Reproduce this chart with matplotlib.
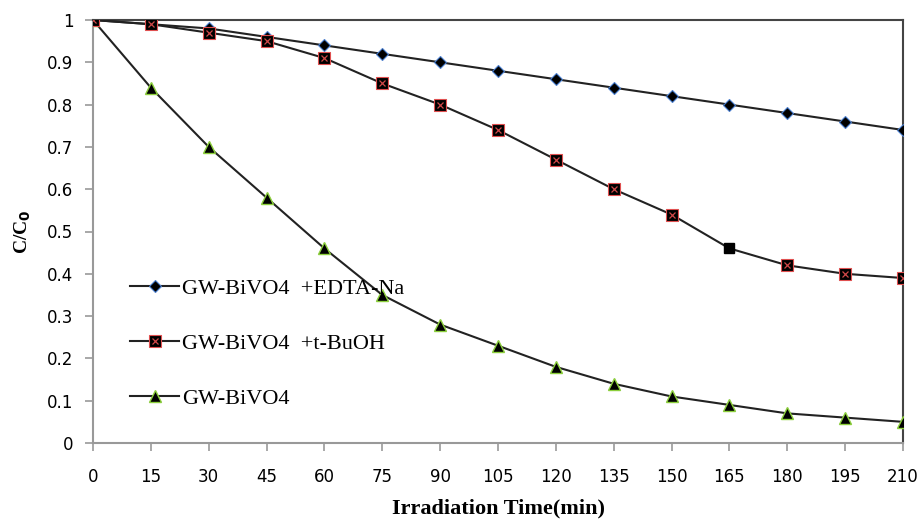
import matplotlib
matplotlib.use("Agg")
import matplotlib.pyplot as plt
from matplotlib.legend_handler import HandlerTuple

time = [0, 15, 30, 45, 60, 75, 90, 105, 120, 135, 150, 165, 180, 195, 210]
edta = [1.00, 0.99, 0.98, 0.96, 0.94, 0.92, 0.90, 0.88, 0.86, 0.84, 0.82, 0.80, 0.78, 0.76, 0.74]
tbuoh = [1.00, 0.99, 0.97, 0.95, 0.91, 0.85, 0.80, 0.74, 0.67, 0.60, 0.54, 0.46, 0.42, 0.40, 0.39]
gw = [1.00, 0.84, 0.70, 0.58, 0.46, 0.35, 0.28, 0.23, 0.18, 0.14, 0.11, 0.09, 0.07, 0.06, 0.05]
labels = ["GW-BiVO4  +EDTA-Na", "GW-BiVO4  +t-BuOH", "GW-BiVO4"]
yticks = [0, 0.1, 0.2, 0.3, 0.4, 0.5, 0.6, 0.7, 0.8, 0.9, 1]
ytick_labels = ["0", "0.1", "0.2", "0.3", "0.4", "0.5", "0.6", "0.7", "0.8", "0.9", "1"]

fig = plt.figure(figsize=(9.21, 5.26), dpi=100)
ax = fig.add_axes([93/921, 1-443/526, (903-93)/921, (443-20)/526])

h1, = ax.plot(time, edta, color="#222222", lw=1.5, marker="D", ms=6,
              mfc="black", mec="#4a7fd0", mew=0.8, zorder=3)
mask = [t != 165 for t in time]
h2, = ax.plot(time, tbuoh, color="#222222", lw=1.5, zorder=3)
t_m = [t for t, m in zip(time, mask) if m]
v_m = [v for v, m in zip(tbuoh, mask) if m]
h2s, = ax.plot(t_m, v_m, ls="none", marker="s", ms=8, mfc="black", mec="#e05050", mew=0.8, zorder=4)
h2x, = ax.plot(t_m, v_m, ls="none", marker="x", ms=5, color="#d04848", mew=0.9, zorder=5)
i165 = time.index(165)
ax.plot([time[i165]], [tbuoh[i165]], ls="none", marker="s", ms=7, color="black", zorder=4)
h3, = ax.plot(time, gw, color="#222222", lw=1.5, marker="^", ms=8,
              mfc="black", mec="#8ccf3c", mew=1.0, zorder=3)

ax.set_xlim(0, 210)
ax.set_ylim(0, 1)
ax.set_xticks(time)
ax.set_xticklabels([str(t) for t in time], fontfamily="DejaVu Sans", fontsize=12)
ax.set_yticks(yticks)
ax.set_yticklabels(ytick_labels, fontfamily="DejaVu Sans", fontsize=12)

for s in ["left", "bottom"]:
    ax.spines[s].set_color("#999999")
    ax.spines[s].set_linewidth(1.5)
for s in ["top", "right"]:
    ax.spines[s].set_color("#444444")
    ax.spines[s].set_linewidth(1.5)
ax.tick_params(axis="both", direction="out", length=6, width=1.2, color="#999999", pad=8)
ax.tick_params(axis="x", pad=12)

ax.set_xlabel("Irradiation Time(min)", fontfamily="Liberation Serif", fontweight="bold", fontsize=16, labelpad=9)
ax.set_ylabel("C/C$_\\mathbf{0}$", fontfamily="Liberation Serif", fontweight="bold", fontsize=14, labelpad=10)

leg = ax.legend([h1, (h2, h2s, h2x), h3], labels,
                handler_map={tuple: HandlerTuple(ndivide=1, pad=0)},
                loc="lower left", bbox_to_anchor=(0.035, 0.059), frameon=False,
                prop={"family": "Liberation Serif", "size": 16},
                handlelength=2.2, labelspacing=1.55, handletextpad=0.15,
                borderaxespad=0)

fig.savefig("out.png", dpi=100)
